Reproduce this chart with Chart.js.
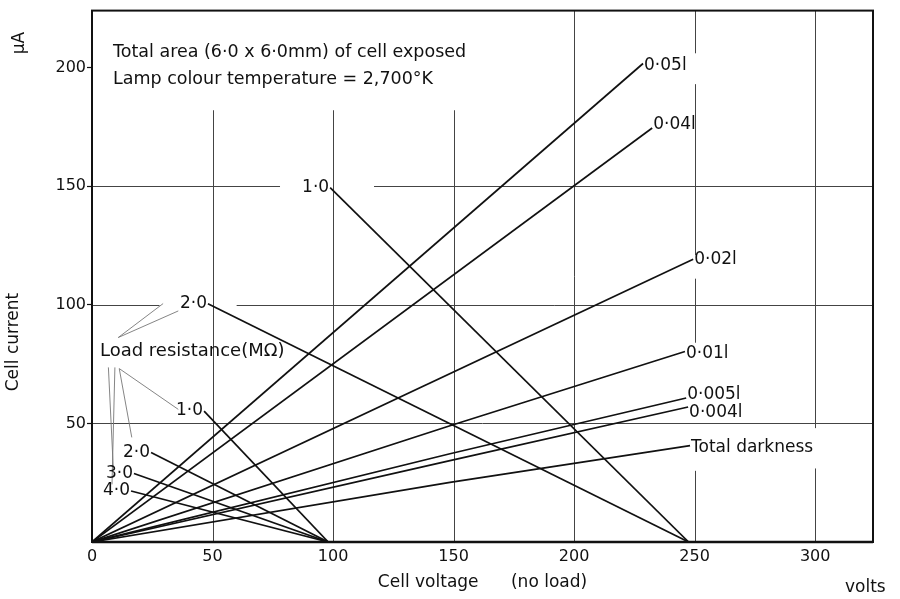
<!DOCTYPE html>
<html lang="en">
<head>
<meta charset="UTF-8">
<title>Cell current / cell voltage</title>
<script src="https://cdn.jsdelivr.net/npm/chart.js"></script>
<style>
  *{margin:0;padding:0}
  body{background:#fff}
  #wrap{width:900px;height:599px}
</style>
</head>
<body>
<div id="wrap"><canvas id="cellChart" width="900" height="599"></canvas></div>
<script>
// axis ticks
const xTicks = [0, 50, 100, 150, 200, 250, 300];
const yTicks = [50, 100, 150, 200];

// illumination curves (lumens)
const lightNames = ['0·05l', '0·04l', '0·02l', '0·01l', '0·005l', '0·004l', 'Total darkness'];
const lightVolts = [[0, 228.6], [0, 232.4], [0, 249.4], [0, 148.5, 246], [0, 148.5, 246.5], [0, 148.5, 247.3], [0, 148.5, 248.1]];
const lightMicroA = [[0, 201.7], [0, 174.5], [0, 119.2], [0, 49, 80.3], [0, 37.2, 60.7], [0, 34.3, 56.9], [0, 25.1, 40.6]];

// load lines (MΩ) for 250 V and 100 V supplies
const loadNames = ['1·0', '2·0', '1·0', '2·0', '3·0', '4·0'];
const loadVolts = [[98.8, 247.5], [48.1, 247.5], [46.5, 98], [24.5, 98], [17.4, 98], [16.2, 98]];
const loadMicroA = [[149.4, 0], [100.4, 0], [55.2, 0], [37.7, 0], [28.9, 0], [21.5, 0]];

// partial grid lines as drawn on the plate
const gridX = [50, 100, 150, 200, 250, 300];
const gridXSpans = [[[0, 182]], [[0, 182]], [[0, 182]], [[0, 224]], [[0, 30], [84, 111], [121, 193], [206, 224]], [[0, 31], [48, 224]]];
const gridY = [50, 100, 150];
const gridYSpans = [[[0, 324]], [[0, 28], [60, 324]], [[0, 78], [117, 324]]];

const lightLabelDy = [2, -3, 0, 2, -3, 6, 2];
const leaders = [[10.9, 86.2, 29.5, 100.5], [10.9, 86.2, 35.8, 97.4], [11.3, 73.1, 35.8, 55.9], [11.3, 73.1, 16.5, 44.1], [6.8, 73.6, 8.8, 31.8], [9.5, 73.6, 8.3, 24.3]];

const LABEL_FONT = '17px "DejaVu Sans", sans-serif';
const NOTE_FONT = '17.5px "DejaVu Sans", sans-serif';
const INK = '#111';

const toPts = (xs, ys) => xs.map((x, i) => ({ x, y: ys[i] }));

const datasets = [];
lightNames.forEach((n, i) => datasets.push({ label: n, kind: 'light', idx: i, data: toPts(lightVolts[i], lightMicroA[i]) }));
loadNames.forEach((n, i) => datasets.push({ label: n, kind: 'load', idx: i, data: toPts(loadVolts[i], loadMicroA[i]) }));
datasets.forEach(d => Object.assign(d, { showLine: true, borderColor: INK, borderWidth: 1.7, pointRadius: 0, fill: false }));

const platePlugin = {
  id: 'plate',
  beforeDatasetsDraw(chart) {
    const { ctx, scales: { x, y } } = chart;
    ctx.save();
    ctx.strokeStyle = '#444';
    ctx.lineWidth = 1;
    gridX.forEach((v, i) => {
      const px = Math.round(x.getPixelForValue(v)) + 0.5;
      gridXSpans[i].forEach(([a, b]) => {
        ctx.beginPath();
        ctx.moveTo(px, y.getPixelForValue(a));
        ctx.lineTo(px, y.getPixelForValue(b));
        ctx.stroke();
      });
    });
    gridY.forEach((v, i) => {
      const py = Math.round(y.getPixelForValue(v)) + 0.5;
      gridYSpans[i].forEach(([a, b]) => {
        ctx.beginPath();
        ctx.moveTo(x.getPixelForValue(a), py);
        ctx.lineTo(x.getPixelForValue(b), py);
        ctx.stroke();
      });
    });
    ctx.restore();
  },
  afterDatasetsDraw(chart) {
    const { ctx, chartArea: ca, scales: { x, y } } = chart;
    ctx.save();
    // frame
    ctx.strokeStyle = INK;
    ctx.lineWidth = 2;
    ctx.strokeRect(ca.left, ca.top, ca.right - ca.left, ca.bottom - ca.top);
    ctx.lineWidth = 2.5;
    ctx.beginPath(); ctx.moveTo(ca.left, ca.bottom); ctx.lineTo(ca.right, ca.bottom); ctx.stroke();

    // leader lines from the "Load resistance" note
    ctx.strokeStyle = '#777';
    ctx.lineWidth = 0.9;
    leaders.forEach(([x1, y1, x2, y2]) => {
      ctx.beginPath();
      ctx.moveTo(x.getPixelForValue(x1), y.getPixelForValue(y1));
      ctx.lineTo(x.getPixelForValue(x2), y.getPixelForValue(y2));
      ctx.stroke();
    });

    ctx.fillStyle = INK;
    ctx.font = LABEL_FONT;
    ctx.textBaseline = 'middle';
    // curve labels
    chart.data.datasets.forEach(ds => {
      const pts = ds.data;
      if (ds.kind === 'light') {
        const p = pts[pts.length - 1];
        ctx.textAlign = 'left';
        ctx.fillText(ds.label, x.getPixelForValue(p.x) + 1, y.getPixelForValue(p.y) + lightLabelDy[ds.idx]);
      } else {
        const p = pts[0];
        ctx.textAlign = 'right';
        ctx.fillText(ds.label, x.getPixelForValue(p.x) - 1, y.getPixelForValue(p.y));
      }
    });

    // notes
    ctx.font = NOTE_FONT;
    ctx.textAlign = 'left';
    ctx.fillText('Total area (6·0 x 6·0mm) of cell exposed', x.getPixelForValue(8.7), y.getPixelForValue(206.3));
    ctx.fillText('Lamp colour temperature = 2,700°K', x.getPixelForValue(8.7), y.getPixelForValue(195));
    ctx.font = '18px "DejaVu Sans", sans-serif';
    ctx.fillText('Load resistance(MΩ)', x.getPixelForValue(3.3), y.getPixelForValue(80.3));

    // axis words
    ctx.font = LABEL_FONT;
    ctx.fillText('volts', 845, 588);
    ctx.textAlign = 'center';
    ctx.save();
    ctx.translate(14, 342);
    ctx.rotate(-Math.PI / 2);
    ctx.fillText('Cell current', 0, 0);
    ctx.restore();
    ctx.save();
    ctx.translate(20, 43);
    ctx.rotate(-Math.PI / 2);
    ctx.fillText('µA', 0, 0);
    ctx.restore();
    ctx.restore();
  }
};

new Chart(document.getElementById('cellChart').getContext('2d'), {
  type: 'scatter',
  data: { datasets },
  options: {
    responsive: false,
    animation: false,
    layout: { padding: { top: 7, right: 27, bottom: 0, left: 0 } },
    plugins: { legend: { display: false }, tooltip: { enabled: false } },
    scales: {
      x: {
        type: 'linear', min: 0, max: 324,
        afterBuildTicks: s => { s.ticks = xTicks.map(v => ({ value: v })); },
        afterFit: s => { s.height = 57; },
        grid: { drawOnChartArea: false, drawTicks: false },
        border: { display: false },
        ticks: { color: INK, font: { family: 'DejaVu Sans', size: 16 }, padding: 5, maxRotation: 0 },
        title: { display: true, text: 'Cell voltage      (no load)', color: INK, font: { family: 'DejaVu Sans', size: 17 }, padding: { top: 0, bottom: 6 } }
      },
      y: {
        type: 'linear', min: 0, max: 224,
        afterBuildTicks: s => { s.ticks = yTicks.map(v => ({ value: v })); },
        afterFit: s => { s.width = 92; },
        grid: { drawOnChartArea: false, drawTicks: true, tickLength: 5, tickColor: INK, tickWidth: 1.2 },
        border: { display: false },
        ticks: { color: INK, font: { family: 'DejaVu Sans', size: 16 }, padding: 1 }
      }
    }
  },
  plugins: [platePlugin]
});
</script>
</body>
</html>
